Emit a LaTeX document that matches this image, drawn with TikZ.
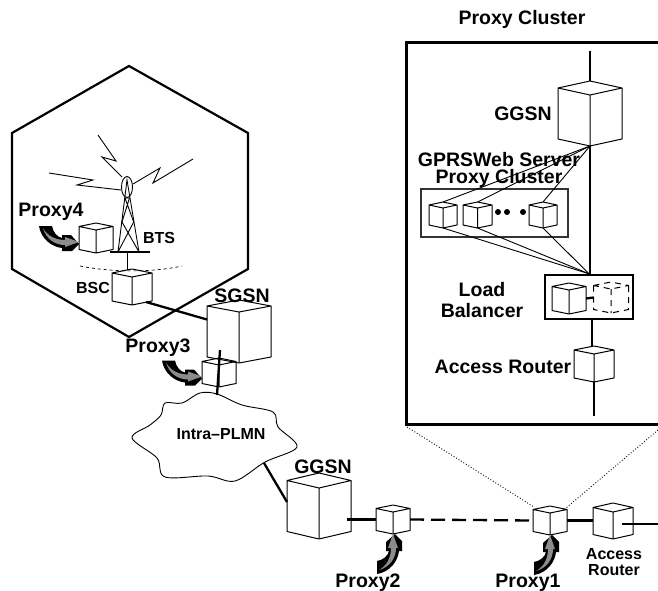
\documentclass[tikz,border=0pt]{standalone}
\usepackage{fontspec}
\setmainfont{Liberation Sans}
\usetikzlibrary{calc}
\tikzset{
 cubebox/.style={inner sep=0, outer sep=0},
 cubeline/.style={line width=1pt, line join=round},
 sparedash/.style={dash pattern=on 6pt off 5pt},
 thinlink/.style={line width=.9pt},
 thicklink/.style={line width=2.3pt},
 lab/.style={font=\fontsize{19.5}{17}\selectfont\bfseries, inner sep=0, align=center},
 smalllab/.style={font=\fontsize{16}{16}\selectfont\bfseries, inner sep=0, align=center},
 dotnode/.style={circle, fill=black, inner sep=0, minimum size=6pt},
 pics/proxyarrow/.style={code={
  \fill[black] (-40,-16) .. controls (-38,-3) and (-27,5) .. (-17,6) -- (-17,9) -- (-7,9) -- (0,2) -- (-8,-7) -- (-17,-7) -- (-17,-4) .. controls (-22,-5) and (-26,-10) .. (-27,-16) -- cycle;
  \fill[black!45] (-36,-14) .. controls (-31,-5) and (-22,-2) .. (-14,-2) -- (-14,-5) -- (0,0) -- (-14,5) -- (-14,3) .. controls (-24,3) and (-33,-3) .. (-36,-14) -- cycle;
 }}
}
% name, center x, top y, width, height, rhomb height, line style
\newcommand{\netcube}[7]{
 \node[cubebox, minimum width=#4, minimum height=#5] (#1) at (#2,{#3+#5/2}) {};
 \draw[cubeline,#7,shift={(#2,#3)}] ({-#4/2},{#6/2}) -- (0,0) -- ({#4/2},{#6/2}) -- (0,#6) -- cycle
  ({-#4/2},{#6/2}) -- ({-#4/2},{#5-#6/2}) -- (0,#5) -- ({#4/2},{#5-#6/2}) -- ({#4/2},{#6/2})
  (0,#6) -- (0,#5);
}
\begin{document}
\begin{tikzpicture}[x=1pt,y=-1pt]
\useasboundingbox (0,0) rectangle (658,591);
\draw[line width=2.2pt, line join=miter] (129,66) -- (248,133) -- (248,269) -- (129,337) -- (12,269) -- (12,133) -- cycle;
\draw[line width=3pt] (658,43) -- (406,43) -- (406,424) -- (658,424);
\draw[line width=.9pt, dotted] (407,427) -- (534,507);
\draw[line width=.9pt, dotted] (658,430) -- (566,508);

% tower
\draw[thinlink] (127,187) ellipse (5.5 and 10.5);
\draw[thinlink] (118,252) -- (127,180) -- (139,252);
\draw[thinlink] (125,198) -- (129.5,198) (125,198) -- (133.7,222) -- (118,252) (129.5,198) -- (122,222) -- (139,252);
\draw[line width=1.2pt] (110,252) -- (150,252);
\draw[thinlink] (127,252) -- (127,270);
\draw[thinlink] (122,177) -- (102,157) -- (116,161) -- (98,135);
\draw[thinlink] (133,184) -- (160,168) -- (153,183) -- (193,159);
\draw[thinlink] (121,190) -- (77,185) -- (93,180) -- (49,173);
\draw[line width=.7pt, dashed] (80,266) .. controls (110,272) and (150,273) .. (182,266);

\netcube{proxyfour}{96}{223}{34}{30}{7}{}
\netcube{bsc}{132}{269}{40}{36}{8}{}
\netcube{sgsn}{239}{300}{64}{63}{12}{}
\netcube{proxythree}{219}{358}{34}{29}{7}{}
\netcube{ggsnlow}{319}{473}{64}{66}{15}{}
\netcube{proxytwo}{393}{505}{34}{29}{7}{}
\netcube{proxyone}{550}{506}{34}{29}{7}{}
\netcube{routerlow}{613}{503}{40}{36}{9}{}
\netcube{ggsnup}{590}{81}{64}{65}{14}{}
\netcube{webone}{443}{202}{28}{26}{6}{}
\netcube{webtwo}{477.5}{202}{29}{26}{6}{}
\netcube{webthree}{543}{202}{28}{26}{6}{}
\netcube{lbcube}{569}{283}{34}{31}{7}{}
\netcube{lbspare}{611}{282}{35}{31}{7}{sparedash}
\netcube{routerup}{594}{346}{40}{36}{8}{}

\node[draw=black!80, line width=1.4pt, minimum width=147, minimum height=48, inner sep=0] (webbox) at (494.5,213) {};
\node[draw, line width=2.4pt, minimum width=88, minimum height=44, inner sep=0] (lbbox) at (589,297) {};
\node[dotnode] (dotone) at (498,212) {};
\node[dotnode] (dottwo) at (507,212) {};
\node[dotnode] (dotthree) at (523,212) {};

\draw[line width=.9pt] plot[smooth cycle, tension=.55] coordinates {(132,438) (150,425) (161,415) (165,403) (182,403) (200,393) (217,394) (242,405) (273,412) (278,427) (297,447) (265,462) (235,481) (208,476) (165,477) (157,458)};
\node[smalllab] (plmn) at (221,434) {Intra--PLMN};

\coordinate (clustertop) at (590,51);
\coordinate (clusterend) at (594,416);
\coordinate (rightend) at (658,524);
\coordinate (cloudedge) at (264,463);
\draw[thicklink] (clustertop) -- (ggsnup.north);
\draw[thicklink] (ggsnup.south) -- (ggsnup.south |- lbbox.north);
\draw[thicklink] ($(lbbox.south)+(3,0)$) -- ($(routerup.north)+(-2,0)$);
\draw[thicklink] (routerup.south) -- (clusterend);
\draw[thicklink] (lbcube.east) -- (lbspare.west);
\draw[thinlink] (ggsnup.south) -- (webone.north);
\draw[thinlink] (ggsnup.south) -- (webtwo.north);
\draw[thinlink] (ggsnup.south) -- (webthree.north);
\draw[thinlink] (webone.south) -- (lbbox.north);
\draw[thinlink] (webtwo.south) -- (lbbox.north);
\draw[thinlink] (webthree.south) -- (lbbox.north);

\draw[thicklink] ($(bsc.south)+(14,-3)$) -- ($(sgsn.west)+(0,-12)$);
\draw[thicklink] ($(proxythree.north)+(1,-8)$) -- ($(proxythree.south)+(-2,8)$);
\draw[thicklink] (cloudedge) -- ($(ggsnlow.west)+(0,-4)$);
\draw[thicklink] ($(proxytwo.west)+(-29,0)$) -- (proxytwo.west);
\draw[thicklink, dash pattern=on 14pt off 7pt] (proxytwo.east) -- (proxyone.west);
\draw[thicklink] (proxyone.east) -- (proxyone.east -| routerlow.west);
\draw[thicklink] ($(routerlow.east)+(-11,3)$) -- (rightend);

\pic at ($(proxyfour.west)+(0,4)$) {proxyarrow};
\pic at ($(proxythree.west)+(0,4)$) {proxyarrow};
\pic[rotate=90] at (proxytwo.south) {proxyarrow};
\pic[rotate=90] at (proxyone.south) {proxyarrow};

\node[lab] (titlelab) at (522,19) {Proxy Cluster};
\node[lab] (ggsnuplab) at (523,114) {GGSN};
\node[lab] (weblab) at (499,170) {GPRSWeb Server\\Proxy Cluster};
\node[lab, font=\fontsize{19.5}{21}\selectfont\bfseries] (lblab) at (482,300) {Load\\Balancer};
\node[lab] (routeruplab) at (503,367) {Access Router};
\node[lab] (proxyfourlab) at (51,212) {Proxy4};
\node[lab] (proxythreelab) at (158,348) {Proxy3};
\node[lab] (sgsnlab) at (242,296) {SGSN};
\node[lab] (ggsnlowlab) at (323,467) {GGSN};
\node[lab] (proxytwolab) at (368,583) {Proxy2};
\node[lab] (proxyonelab) at (528,583) {Proxy1};
\node[smalllab] (btslab) at (159,238) {BTS};
\node[smalllab] (bsclab) at (93,288) {BSC};
\node[smalllab] (routerlowlab) at (614,562) {Access\\Router};
\end{tikzpicture}
\end{document}
